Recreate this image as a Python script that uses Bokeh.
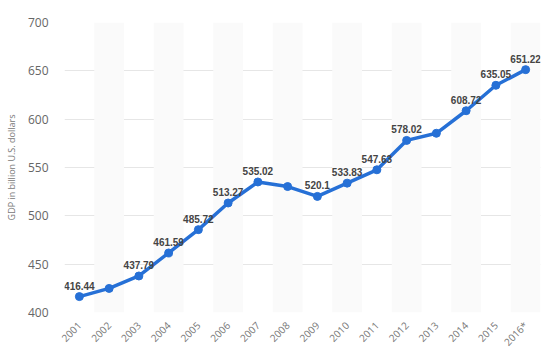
import math
from bokeh.plotting import figure
from bokeh.models import ColumnDataSource, LabelSet, FixedTicker, Range1d
from bokeh.core.properties import value
from bokeh.embed import file_html
from bokeh.resources import INLINE

years = [2001, 2002, 2003, 2004, 2005, 2006, 2007, 2008, 2009, 2010, 2011, 2012, 2013, 2014, 2015, 2016]
gdp = [416.44, 424.9, 437.79, 461.59, 485.72, 513.27, 535.02, 530.3, 520.1, 533.83, 547.63, 578.02, 585.4, 608.72, 635.05, 651.22]
point_labels = ["416.44", "", "437.79", "461.59", "485.72", "513.27", "535.02", "", "520.1", "533.83", "547.63", "578.02", "", "608.72", "635.05", "651.22"]
year_labels = ["2001", "2002", "2003", "2004", "2005", "2006", "2007", "2008", "2009", "2010", "2011", "2012", "2013", "2014", "2015", "2016*"]
y_ticks = [400, 450, 500, 550, 600, 650, 700]

FONT = "Open Sans"

p = figure(width=542, height=356, output_backend="svg", toolbar_location=None,
           x_range=Range1d(2000.5, 2016.5), y_range=Range1d(400, 700),
           min_border_left=64, min_border_right=2, min_border_top=22, min_border_bottom=42)
p.outline_line_color = None
p.background_fill_color = "white"

shaded = [y for y in years if y % 2 == 0]
p.vbar(x=shaded, width=1, bottom=400, top=700, fill_color="#fafafa", line_color=None)

src = ColumnDataSource(dict(x=years, y=gdp, lab=point_labels))
p.line("x", "y", source=src, line_color="#2670d6", line_width=3.5)
p.scatter("x", "y", source=src, size=8, fill_color="#2670d6", line_color="#2670d6")

labels = LabelSet(x="x", y="y", text="lab", source=src, x_offset=0, y_offset=7,
                  text_align="center", text_baseline="bottom", text_font=value("Liberation Sans"),
                  text_font_size="10px", text_font_style="bold", text_color="#444444")
p.add_layout(labels)

p.xgrid.grid_line_color = None
p.ygrid.grid_line_color = "#e6e6e6"
p.ygrid.ticker = FixedTicker(ticks=y_ticks)

p.yaxis.ticker = FixedTicker(ticks=y_ticks)
p.yaxis.axis_line_color = None
p.yaxis.major_tick_line_color = None
p.yaxis.minor_tick_line_color = None
p.yaxis.major_label_text_font = FONT
p.yaxis.major_label_text_font_size = "12px"
p.yaxis.major_label_text_color = "#666666"
p.yaxis.major_label_standoff = 10
p.yaxis.axis_label = "GDP in billion U.S. dollars"
p.yaxis.axis_label_text_font = FONT
p.yaxis.axis_label_text_font_size = "9px"
p.yaxis.axis_label_text_font_style = "normal"
p.yaxis.axis_label_text_color = "#777777"
p.yaxis.axis_label_standoff = 7

p.xaxis.ticker = FixedTicker(ticks=years)
p.xaxis.major_label_overrides = {y: l for y, l in zip(years, year_labels)}
p.xaxis.major_label_orientation = math.pi / 4
p.xaxis.axis_line_color = None
p.xaxis.major_tick_line_color = None
p.xaxis.minor_tick_line_color = None
p.xaxis.major_label_text_font = FONT
p.xaxis.major_label_text_font_size = "10px"
p.xaxis.major_label_text_color = "#777777"

open("out.html", "w").write(file_html(p, INLINE))
